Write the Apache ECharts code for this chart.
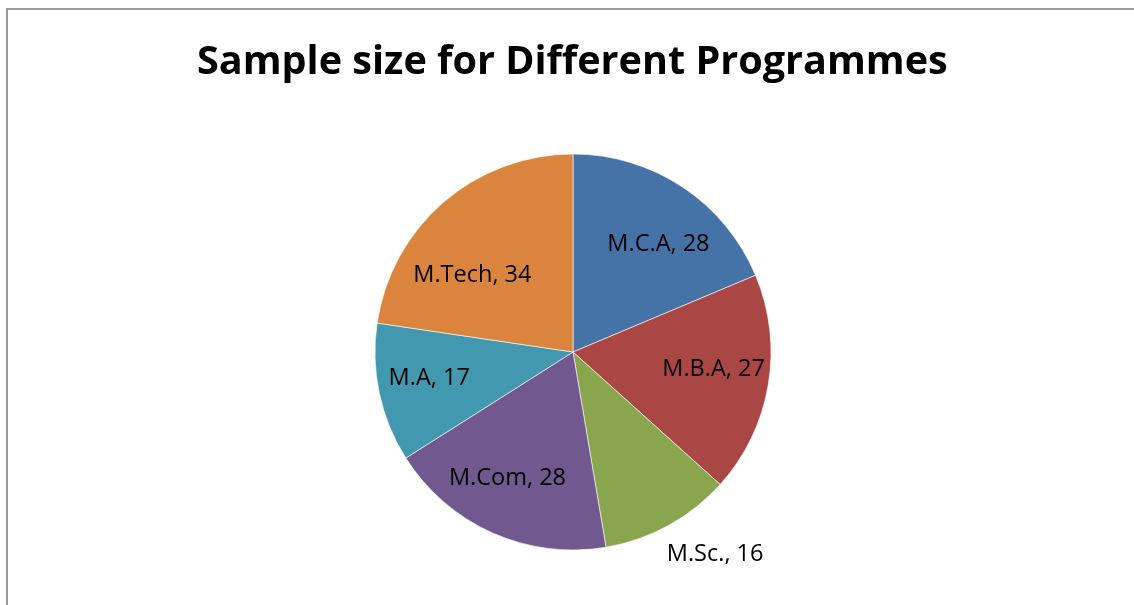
<!DOCTYPE html>
<html>
<head>
<meta charset="utf-8">
<script src="https://cdn.jsdelivr.net/npm/echarts@6/dist/echarts.min.js"></script>
<style>
  html, body { margin: 0; padding: 0; background: #fff; }
  #chart { width: 1134px; height: 605px; }
</style>
</head>
<body>
<div id="chart"></div>
<script>
// 各专业样本数
const programmes = ['M.C.A', 'M.B.A', 'M.Sc.', 'M.Com', 'M.A', 'M.Tech']
const sampleSizes = [28, 27, 16, 28, 17, 34]

const colors = ['#4572A7', '#AA4643', '#89A54E', '#71588F', '#4198AF', '#DB843D']
// 标签相对默认 inside 位置的偏移（模仿 Excel best fit）
const labelShift = {
  'M.C.A': [29, -23],
  'M.B.A': [40, 0],
  'M.Sc.': [93, 113],
  'M.Com': [-24, 33],
  'M.A': [-44, 5],
  'M.Tech': [-34, 1]
}

const pieData = programmes.map((name, i) => ({
  name: name,
  value: sampleSizes[i],
  label: { offset: labelShift[name] }
}))

const myChart = echarts.init(document.getElementById('chart'))
myChart.setOption({
  animation: false,
  color: colors,
  graphic: [{
    type: 'rect',
    shape: { x: 7, y: 9, width: 1300, height: 800 },
    style: { fill: 'none', stroke: '#999', lineWidth: 2 }
  }],
  title: {
    text: 'Sample size for Different Programmes',
    left: 192,
    top: 38,
    textStyle: { fontFamily: 'Open Sans', fontSize: 39.6, fontWeight: 'bold', color: '#000' }
  },
  series: [{
    type: 'pie',
    center: [573, 352],
    radius: [0, 198],
    startAngle: 90,
    clockwise: true,
    data: pieData,
    itemStyle: { borderColor: '#fff', borderWidth: 0.6 },
    label: {
      position: 'inside',
      formatter: '{b}, {c}',
      color: '#000',
      fontFamily: 'Open Sans',
      fontSize: 23.5
    },
    labelLine: { show: false }
  }]
})
</script>
</body>
</html>
